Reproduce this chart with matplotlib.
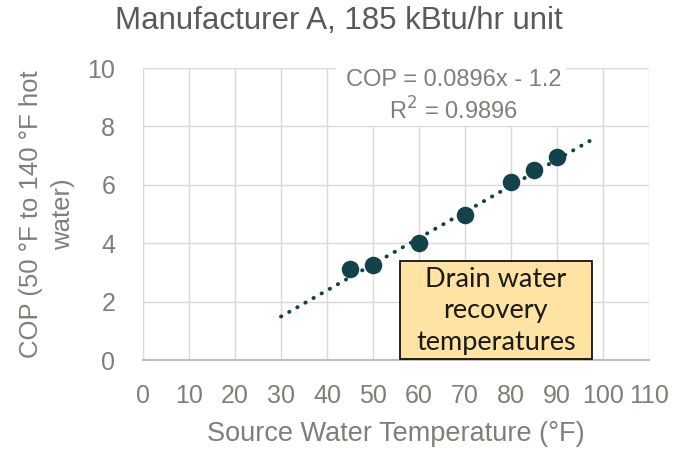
import matplotlib
matplotlib.use("Agg")
import matplotlib.pyplot as plt
import numpy as np
from matplotlib.patches import Rectangle

plt.rcParams['font.family'] = ['Liberation Sans', 'DejaVu Sans']

# Data
source_temp = [45, 50, 60, 70, 80, 85, 90]
cop = [3.1, 3.25, 4.0, 4.95, 6.1, 6.5, 6.95]
trend_slope = 0.0896
trend_intercept = -1.2
trend_range = [30, 98]
x_ticks = list(range(0, 111, 10))
y_ticks = list(range(0, 11, 2))

title = "Manufacturer A, 185 kBtu/hr unit"
xlabel = "Source Water Temperature (°F)"
ylabel = "COP (50 °F to 140 °F hot\nwater)"
eq_text = "COP = 0.0896x - 1.2\nR$^2$ = 0.9896"
box_text = "Drain water\nrecovery\ntemperatures"

mark_color = "#12424a"
text_gray = "#7b8175"
grid_gray = "#d9d9d9"

W, H = 689, 453
fig = plt.figure(figsize=(W/100, H/100), dpi=100)
ax = fig.add_axes([143/W, 1-360/H, (649-143)/W, (360-68)/H])

ax.set_xlim(0, 110)
ax.set_ylim(0, 10)
ax.set_xticks(x_ticks)
ax.set_yticks(y_ticks)
ax.grid(True, color=grid_gray, linewidth=1)
ax.set_axisbelow(True)
ax.tick_params(length=0, labelsize=18, labelcolor=text_gray)
ax.tick_params(axis='x', pad=17)
ax.tick_params(axis='y', pad=20)
for s in ['top', 'right']:
    ax.spines[s].set_visible(False)
ax.spines['left'].set_color(grid_gray)
ax.spines['bottom'].set_color('#bfbfbf')
ax.spines['bottom'].set_linewidth(1.5)

# trendline
tx = np.array(trend_range, dtype=float)
ty = trend_slope * tx + trend_intercept
ax.plot(tx, ty, linestyle=(0, (0.1, 2.3)), dash_capstyle='round', color=mark_color,
        linewidth=2.8, zorder=3)

ax.scatter(source_temp, cop, s=135, color=mark_color, zorder=4)

# equation with white background box
ax.add_patch(Rectangle((42, 8.0), 50, 2.3, transform=ax.transData,
                       facecolor='white', edgecolor='none', zorder=2, clip_on=False))
ax.text(67.5, 9.02, eq_text, ha='center', va='center', fontsize=17,
        color=text_gray, linespacing=1.3, zorder=5)

# annotation box
ax.add_patch(Rectangle((55.9, 0.05), 41.7, 3.35, transform=ax.transData,
                       facecolor='#fee3a2', edgecolor='black', linewidth=1.2, zorder=6))
ax.text(76.7, 1.68, box_text, ha='center', va='center', fontsize=19.5,
        color='#1a1a1a', linespacing=1.32, zorder=7, family=['Lato', 'DejaVu Sans'])

fig.text(339/W, 1-21/H, title, fontsize=22.5, color='#595959', ha='center', va='center')
ax.set_xlabel(xlabel, fontsize=19.5, color=text_gray)
ax.xaxis.set_label_coords(0.5, -(434-360)/292, transform=ax.transAxes)
ax.xaxis.label.set_va('center')
ax.set_ylabel(ylabel, fontsize=18.5, color=text_gray, linespacing=1.4)
ax.yaxis.set_label_coords(-(143-47)/506, 0.5, transform=ax.transAxes)
ax.yaxis.label.set_va('center')

fig.savefig("out.png", dpi=100)
